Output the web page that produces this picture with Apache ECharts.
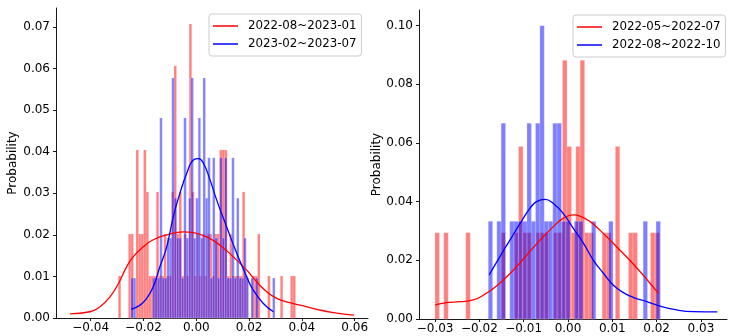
<!DOCTYPE html>
<html>
<head>
<meta charset="utf-8">
<script src="https://cdn.jsdelivr.net/npm/echarts@6/dist/echarts.min.js"></script>
<style>html,body{margin:0;padding:0;background:#fff;}#c{width:729px;height:336px;}</style>
</head>
<body>
<div id="c"></div>
<script>
// ---------- DATA ----------
const leftRedName = '2022-08~2023-01';
const leftBlueName = '2023-02~2023-07';
const rightRedName = '2022-05~2022-07';
const rightBlueName = '2022-08~2022-10';

// Left panel histograms (bin start, bin width, probability per bin)
const leftRedBinStart = -0.02955;
const leftRedBinWidth = 0.000959;
const leftRedProb = [
  0.0101,0,0,0,0.0202,0.0202,0,0.0404,0.0202,0.0202,
  0.0404,0.0303,0.0101,0.0101,0.0101,0.0303,0.0101,0.0101,0.0202,0.0101,
  0.0101,0.0303,0.0606,0.0202,0.0303,0.0101,0.0202,0.0101,0.0707,0.0303,
  0.0101,0.0202,0.0101,0.0202,0.0101,0.0202,0.0202,0.0101,0.0202,0.0202,
  0.0404,0.0404,0.0404,0.0101,0.0202,0.0101,0.0101,0.0101,0.0101,0.0303,
  0.0101,0,0,0.0101,0.0101,0.0202,0,0,0,0.0101,
  0,0,0,0,0.0101,0,0,0,0.0101,0.0101
];
const leftBlueBinStart = -0.02473;
const leftBlueBinWidth = 0.000909;
const leftBlueProb = [
  0.0096,0.0096,0,0,0,0,0,0,0,0.0096,
  0.0096,0.0096,0.0481,0.0096,0.0096,0.0192,0.0192,0.0577,0.0288,0.0192,
  0.0192,0.0096,0.0481,0.0192,0.0288,0.0577,0.0192,0.0288,0.0481,0.0192,
  0.0577,0.0288,0.0385,0.0096,0.0385,0.0192,0.0096,0.0385,0.0192,0.0385,
  0.0096,0.0096,0.0385,0.0096,0.0288,0.0096,0.0096,0.0192,0.0096,0,
  0.0096,0,0.0096,0,0,0,0,0,0,0.0096
];
// Left panel KDE curves
const leftRedKdeX = [-0.0478,-0.0403,-0.0365,-0.0327,-0.0295,-0.0264,-0.0239,-0.0201,-0.0163,-0.0112,-0.0049,-0.0011,0.0039,0.0090,0.0140,0.0191,0.0229,0.0267,0.0305,0.0342,0.0393,0.0456,0.0519,0.0598];
const leftRedKdeY = [0.0010,0.0015,0.0027,0.0051,0.0083,0.0123,0.0147,0.0171,0.0188,0.0200,0.0207,0.0205,0.0195,0.0175,0.0147,0.0115,0.0087,0.0063,0.0047,0.0039,0.0031,0.0021,0.0013,0.0007];
const leftBlueKdeX = [-0.0247,-0.0213,-0.0188,-0.0163,-0.0138,-0.0112,-0.0087,-0.0062,-0.0036,-0.0011,0.0008,0.0027,0.0052,0.0077,0.0115,0.0153,0.0191,0.0216,0.0254,0.0292];
const leftBlueKdeY = [0.0021,0.0031,0.0047,0.0075,0.0123,0.0171,0.0244,0.0300,0.0348,0.0380,0.0383,0.0372,0.0332,0.0284,0.0219,0.0156,0.0099,0.0067,0.0035,0.0015];

// Right panel histograms
const rightRedBinStart = -0.03002;
const rightRedBinWidth = 0.000993;
const rightRedProb = [
  0.0294,0,0.0294,0,0,0,0,0.0294,0,0,
  0,0,0,0,0,0.0294,0,0,0.0294,0.0588,
  0.0294,0.0294,0,0.0294,0.0294,0.0294,0,0.0294,0.0294,0.0882,
  0.0588,0.0294,0.0588,0.0882,0.0294,0.0294,0,0,0.0294,0.0294,
  0,0.0588,0,0,0.0294,0.0294,0,0,0,0.0294,
  0.0294
];
const rightBlueBinStart = -0.01799;
const rightBlueBinWidth = 0.000971;
const rightBlueProb = [
  0.0333,0,0.0333,0.0667,0,0.0333,0.0333,0.0333,0.0333,0.0667,
  0.0333,0.0667,0.1000,0.0333,0.0333,0.0667,0.0667,0.0333,0.0333,0,
  0.0333,0.0333,0,0,0.0333,0,0,0,0.0333,0,
  0,0,0,0,0,0,0.0333,0,0,0.0333
];
// Right panel KDE curves
const rightRedKdeX = [-0.0300,-0.0274,-0.0244,-0.0214,-0.0184,-0.0154,-0.0123,-0.0093,-0.0063,-0.0033,-0.0011,0.0012,0.0027,0.0050,0.0072,0.0102,0.0132,0.0163,0.0185,0.0204];
const rightRedKdeY = [0.0048,0.0056,0.0059,0.0065,0.0088,0.0122,0.0167,0.0218,0.0269,0.0315,0.0343,0.0355,0.0351,0.0332,0.0303,0.0258,0.0212,0.0161,0.0122,0.0088];
const rightBlueKdeX = [-0.0178,-0.0154,-0.0131,-0.0108,-0.0086,-0.0071,-0.0052,-0.0033,-0.0011,0.0012,0.0035,0.0057,0.0080,0.0102,0.0125,0.0147,0.0178,0.0208,0.0245,0.0283,0.0337];
const rightBlueKdeY = [0.0150,0.0212,0.0269,0.0326,0.0377,0.0400,0.0408,0.0394,0.0360,0.0309,0.0258,0.0201,0.0156,0.0116,0.0090,0.0074,0.0059,0.0044,0.0031,0.0025,0.0024];

// Ticks
const leftXTicks = [-0.04,-0.02,0.00,0.02,0.04,0.06];
const leftYTicks = [0.00,0.01,0.02,0.03,0.04,0.05,0.06,0.07];
const rightXTicks = [-0.03,-0.02,-0.01,0.00,0.01,0.02,0.03];
const rightYTicks = [0.00,0.02,0.04,0.06,0.08,0.10];

// ---------- BUILD ----------
const FONT = 'DejaVu Sans';
function bins(start, width, probs) {
  const out = [];
  probs.forEach((p, i) => { if (p > 0) out.push([start + i * width, start + (i + 1) * width, p]); });
  return out;
}
function zip(xs, ys) { return xs.map((x, i) => [x, ys[i]]); }
function fmt(v) { const s = Math.abs(v).toFixed(2); return (v < -1e-9 ? '\u2212' : '') + s; }

function histSeries(name, data, idx, fill, edge) {
  return {
    type: 'custom', name: name + ' hist', xAxisIndex: idx, yAxisIndex: idx, z: 2,
    encode: { x: [0, 1], y: 2 }, data: data, silent: true,
    renderItem: function (params, api) {
      const a = api.coord([api.value(0), api.value(2)]);
      const b = api.coord([api.value(1), 0]);
      return { type: 'rect', shape: { x: a[0], y: a[1], width: b[0] - a[0], height: b[1] - a[1] },
        style: { fill: fill, stroke: edge, lineWidth: 0.5 } };
    }
  };
}
function lineSeries(name, data, idx, color) {
  return { type: 'line', name: name, xAxisIndex: idx, yAxisIndex: idx, z: 5, data: data,
    smooth: true, symbol: 'none', showSymbol: false, lineStyle: { color: color, width: 1.3 }, itemStyle: { color: color } };
}
function xAxis(idx, min, max, ticks) {
  return { type: 'value', gridIndex: idx, min: min, max: max,
    splitLine: { show: false },
    axisLine: { show: true, onZero: false, lineStyle: { color: '#000', width: 0.9 } },
    axisTick: { show: true, length: 3, lineStyle: { color: '#000', width: 0.9 }, customValues: ticks },
    axisLabel: { customValues: ticks, formatter: fmt, color: '#000', fontSize: 12, fontFamily: FONT, margin: 4 } };
}
function yAxis(idx, max, ticks, gap) {
  return { type: 'value', gridIndex: idx, min: 0, max: max,
    name: 'Probability', nameLocation: 'middle', nameRotate: 90, nameGap: gap,
    nameTextStyle: { color: '#000', fontSize: 12, fontFamily: FONT },
    splitLine: { show: false },
    axisLine: { show: true, onZero: false, lineStyle: { color: '#000', width: 0.9 } },
    axisTick: { show: true, length: 3, lineStyle: { color: '#000', width: 0.9 }, customValues: ticks },
    axisLabel: { customValues: ticks, formatter: v => v.toFixed(2), color: '#000', fontSize: 12, fontFamily: FONT, margin: 6 } };
}
function legend(names, left, top) {
  return { data: names, left: left, top: top, orient: 'vertical', icon: 'rect',
    itemWidth: 25, itemHeight: 1.5, itemGap: 4,
    padding: [5, 5, 5, 4], borderColor: '#cccccc', borderWidth: 1, borderRadius: 3,
    backgroundColor: 'rgba(255,255,255,0.8)', selectedMode: false,
    textStyle: { color: '#000', fontSize: 11.8, fontFamily: FONT, padding: [0, 0, 0, 5], lineHeight: 14 } };
}

const option = {
  animation: false,
  backgroundColor: '#fff',
  grid: [
    { left: 56, top: 8, width: 312, height: 310 },
    { left: 419, top: 10, width: 308, height: 309 }
  ],
  xAxis: [ xAxis(0, -0.05314, 0.06504, leftXTicks), xAxis(1, -0.03363, 0.03589, rightXTicks) ],
  yAxis: [ yAxis(0, 0.07452, leftYTicks, 37), yAxis(1, 0.10535, rightYTicks, 28) ],
  legend: [ legend([leftRedName, leftBlueName], 209, 14), legend([rightRedName, rightBlueName], 573, 15) ],
  series: [
    histSeries(leftRedName, bins(leftRedBinStart, leftRedBinWidth, leftRedProb), 0, 'rgba(255,0,0,0.5)', 'rgba(255,215,215,0.55)'),
    histSeries(leftBlueName, bins(leftBlueBinStart, leftBlueBinWidth, leftBlueProb), 0, 'rgba(0,0,255,0.5)', 'rgba(215,215,255,0.55)'),
    lineSeries(leftRedName, zip(leftRedKdeX, leftRedKdeY), 0, '#ff0000'),
    lineSeries(leftBlueName, zip(leftBlueKdeX, leftBlueKdeY), 0, '#0000ff'),
    histSeries(rightRedName, bins(rightRedBinStart, rightRedBinWidth, rightRedProb), 1, 'rgba(255,0,0,0.5)', 'rgba(255,215,215,0.55)'),
    histSeries(rightBlueName, bins(rightBlueBinStart, rightBlueBinWidth, rightBlueProb), 1, 'rgba(0,0,255,0.5)', 'rgba(215,215,255,0.55)'),
    lineSeries(rightRedName, zip(rightRedKdeX, rightRedKdeY), 1, '#ff0000'),
    lineSeries(rightBlueName, zip(rightBlueKdeX, rightBlueKdeY), 1, '#0000ff')
  ]
};
const chart = echarts.init(document.getElementById('c'), null, { renderer: 'canvas' });
chart.setOption(option);
</script>
</body>
</html>
